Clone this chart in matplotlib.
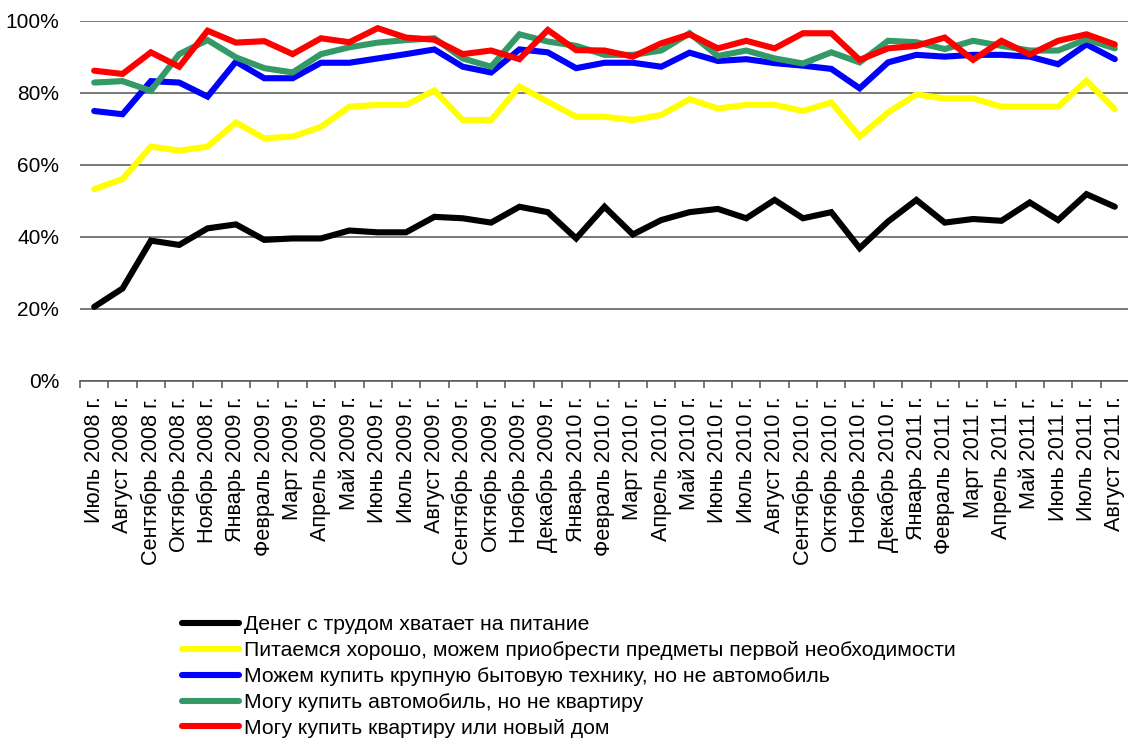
import matplotlib
matplotlib.use('Agg')
import matplotlib.pyplot as plt
from matplotlib.ticker import FuncFormatter
from matplotlib import font_manager

# подписи по оси X
months = ['Июль 2008 г.', 'Август 2008 г.', 'Сентябрь 2008 г.', 'Октябрь 2008 г.', 'Ноябрь 2008 г.',
          'Январь 2009 г.', 'Февраль 2009 г.', 'Март 2009 г.', 'Апрель 2009 г.', 'Май 2009 г.',
          'Июнь 2009 г.', 'Июль 2009 г.', 'Август 2009 г.', 'Сентябрь 2009 г.', 'Октябрь 2009 г.',
          'Ноябрь 2009 г.', 'Декабрь 2009 г.', 'Январь 2010 г.', 'Февраль 2010 г.', 'Март 2010 г.',
          'Апрель 2010 г.', 'Май 2010 г.', 'Июнь 2010 г.', 'Июль 2010 г.', 'Август 2010 г.',
          'Сентябрь 2010 г.', 'Октябрь 2010 г.', 'Ноябрь 2010 г.', 'Декабрь 2010 г.', 'Январь 2011 г.',
          'Февраль 2011 г.', 'Март 2011 г.', 'Апрель 2011 г.', 'Май 2011 г.', 'Июнь 2011 г.',
          'Июль 2011 г.', 'Август 2011 г.']

food_hard = [20.6, 25.7, 39.0, 37.8, 42.4, 43.5, 39.2, 39.6, 39.6, 41.8, 41.3, 41.3, 45.6,
             45.2, 44.0, 48.4, 46.9, 39.6, 48.4, 40.7, 44.7, 46.9, 47.8, 45.2, 50.3,
             45.2, 46.9, 36.9, 44.3, 50.3, 44.0, 45.0, 44.5, 49.6, 44.7, 51.9, 48.4]
eat_well = [53.3, 56.1, 65.1, 64.0, 65.1, 71.8, 67.4, 67.9, 70.6, 76.2, 76.7, 76.7, 80.7,
            72.5, 72.5, 81.8, 77.6, 73.4, 73.4, 72.5, 73.9, 78.3, 75.7, 76.7, 76.7,
            75.0, 77.4, 67.9, 74.6, 79.6, 78.5, 78.5, 76.2, 76.2, 76.2, 83.4, 75.5]
appliances = [75.0, 74.1, 83.3, 82.9, 79.0, 88.7, 84.1, 84.1, 88.4, 88.4, 89.6, 90.8, 92.1,
              87.3, 85.7, 92.1, 91.3, 86.9, 88.4, 88.4, 87.3, 91.2, 88.9, 89.4, 88.3,
              87.6, 86.7, 81.3, 88.5, 90.6, 90.1, 90.6, 90.6, 90.1, 88.0, 93.5, 89.4]
car = [82.9, 83.3, 80.6, 90.8, 94.7, 89.9, 86.9, 85.7, 90.8, 92.7, 94.0, 94.7, 95.2,
       89.6, 87.3, 96.3, 94.3, 93.1, 90.6, 90.6, 91.8, 96.6, 90.3, 91.8, 89.6,
       88.2, 91.3, 88.5, 94.5, 94.1, 92.2, 94.5, 93.1, 91.8, 91.8, 94.9, 92.4]
flat = [86.2, 85.3, 91.3, 87.3, 97.3, 94.0, 94.4, 90.8, 95.2, 94.1, 98.0, 95.4, 94.8,
        90.8, 91.8, 89.4, 97.5, 91.9, 91.8, 90.1, 93.8, 96.3, 92.4, 94.5, 92.4,
        96.6, 96.6, 89.2, 92.4, 93.1, 95.4, 89.2, 94.5, 90.7, 94.5, 96.3, 93.5]

series_names = ['Денег с трудом хватает на питание',
                'Питаемся хорошо, можем приобрести предметы первой необходимости',
                'Можем купить крупную бытовую технику, но не автомобиль',
                'Могу купить автомобиль, но не квартиру',
                'Могу купить квартиру или новый дом']
colors = ['#000000', '#FFFF00', '#0000FF', '#339966', '#FF0000']

installed = {f.name for f in font_manager.fontManager.ttflist}
legend_font = 'Liberation Sans Narrow' if 'Liberation Sans Narrow' in installed else 'Liberation Sans'
plt.rcParams['font.family'] = ['Liberation Sans', 'DejaVu Sans']

fig = plt.figure(figsize=(11.28, 7.42), dpi=100)
ax = fig.add_axes([80 / 1128, 1 - 381 / 742, 1049 / 1128, 360 / 742])

x = list(range(len(months)))
for vals, name, c in zip([food_hard, eat_well, appliances, car, flat], series_names, colors):
    ax.plot(x, vals, color=c, lw=4.4, label=name, solid_capstyle='round', solid_joinstyle='miter')

ax.set_ylim(0, 100)
ax.set_xlim(-0.5, len(months) - 0.5)
ax.set_yticks([0, 20, 40, 60, 80, 100])
ax.yaxis.set_major_formatter(FuncFormatter(lambda v, p: '%d%%' % v))
ax.grid(axis='y', color='#555555', lw=1.1)
ax.set_axisbelow(True)

ax.set_xticks(x)
ax.set_xticklabels(months, rotation=90, fontsize=15.6)
ax.set_xticks([i - 0.5 for i in range(len(months) + 1)], minor=True)
ax.tick_params(axis='x', which='major', length=0, pad=11)
ax.tick_params(axis='x', which='minor', length=5, color='#555555', width=1.1)
ax.tick_params(axis='y', length=0, pad=15, labelsize=15)

for s in ['top', 'right', 'left']:
    ax.spines[s].set_visible(False)
ax.spines['bottom'].set_color('#555555')
ax.spines['bottom'].set_linewidth(1.1)

fig.legend(loc='upper left', bbox_to_anchor=(182 / 1128, 1 - 615 / 742), frameon=False,
           prop={'family': legend_font, 'size': 15.2}, handlelength=2.7, handletextpad=0.25,
           labelspacing=0.33, borderpad=0, borderaxespad=0)

fig.savefig('out.png', dpi=100)
